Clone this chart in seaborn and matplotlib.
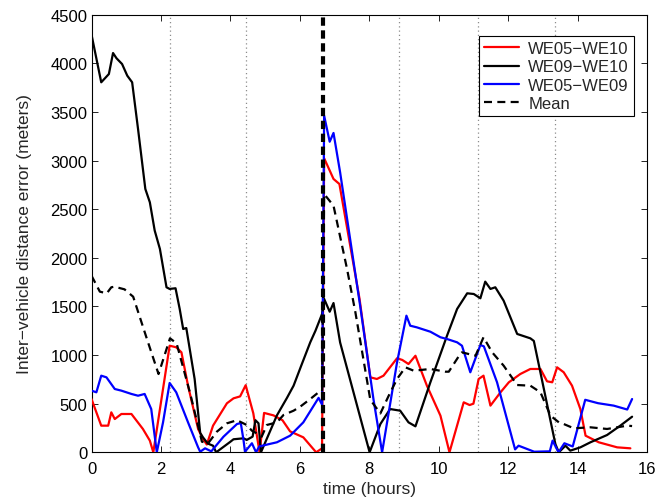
import matplotlib
matplotlib.use("Agg")
import matplotlib.pyplot as plt
import seaborn as sns
import pandas as pd

# WE05-WE10 pair
t_red = [0.0, 0.28, 0.48, 0.57, 0.67, 0.86, 1.15, 1.48, 1.68, 1.78, 2.25, 2.44, 2.59, 2.78,
         3.07, 3.21, 3.32, 3.5, 3.9, 4.09, 4.28, 4.44, 4.66, 4.84, 4.97, 5.24, 5.5, 5.72,
         6.1, 6.47, 6.64, 6.7, 6.97, 7.14, 7.72, 8.03, 8.22, 8.41, 8.8, 8.95, 9.13, 9.33,
         9.66, 10.05, 10.31, 10.72, 10.89, 11.0, 11.15, 11.29, 11.49, 11.78, 12.02, 12.35,
         12.64, 12.93, 13.12, 13.27, 13.41, 13.6, 13.84, 14.08, 14.23, 14.61, 15.14, 15.52]
v_red = [548, 274, 274, 411, 342, 394, 394, 240, 120, 0, 1096, 1080, 1028, 685,
         240, 137, 80, 274, 504, 555, 575, 690, 401, 0, 405, 380, 330, 215,
         154, 0, 41, 3024, 2811, 2759, 1577, 771, 754, 788, 967, 950, 908, 993,
         685, 377, 0, 514, 486, 500, 754, 788, 480, 617, 720, 805,
         857, 857, 730, 720, 874, 823, 685, 445, 171, 103, 51, 41]

# WE09-WE10 pair
t_black = [0.0, 0.28, 0.5, 0.62, 0.72, 0.88, 1.03, 1.17, 1.34, 1.55, 1.68, 1.82, 1.97, 2.16,
           2.25, 2.42, 2.54, 2.64, 2.73, 2.97, 3.13, 3.21, 3.35, 3.5, 3.59, 3.99, 4.09, 4.38,
           4.47, 4.64, 4.72, 4.81, 4.88, 5.34, 5.63, 5.82, 6.05, 6.3, 6.45, 6.64, 6.68, 6.86,
           6.97, 7.16, 8.01, 8.32, 8.6, 8.89, 9.13, 9.33, 9.76, 10.24, 10.53, 10.82, 11.01,
           11.2, 11.34, 11.49, 11.63, 11.87, 12.26, 12.64, 12.74, 13.36, 13.46, 13.65, 13.79,
           14.08, 14.37, 14.85, 15.23, 15.57]
v_black = [4295, 3805, 3890, 4106, 4052, 3993, 3873, 3805, 3325, 2708, 2571, 2280, 2091, 1697,
           1680, 1687, 1474, 1268, 1278, 754, 200, 154, 90, 68, 0, 106, 134, 144,
           127, 161, 330, 298, 0, 380, 560, 685, 900, 1131, 1250, 1422, 1594, 1446,
           1535, 1130, 0, 291, 445, 428, 308, 267, 720, 1200, 1474, 1635, 1628,
           1584, 1755, 1680, 1697, 1559, 1217, 1172, 1145, 85, 0, 68, 17,
           51, 103, 178, 274, 366]

# WE05-WE09 pair
t_blue = [0.0, 0.14, 0.28, 0.43, 0.67, 0.86, 1.15, 1.34, 1.53, 1.72, 1.88, 2.06, 2.25, 2.44,
          2.78, 3.07, 3.13, 3.27, 3.45, 3.8, 4.19, 4.3, 4.38, 4.42, 4.62, 4.74, 4.83, 5.0,
          5.34, 5.72, 6.1, 6.54, 6.64, 6.7, 6.86, 6.97, 7.16, 7.74, 8.12, 8.37, 8.8, 9.07,
          9.18, 9.37, 9.76, 10.05, 10.24, 10.53, 10.67, 10.91, 11.2, 11.3, 11.68, 12.2, 12.3,
          12.75, 13.2, 13.28, 13.45, 13.62, 13.86, 14.22, 14.59, 15.04, 15.43, 15.57]
v_blue = [634, 617, 788, 771, 651, 634, 600, 582, 600, 445, 0, 308, 713, 617,
          308, 51, 6, 41, 10, 160, 291, 300, 120, 6, 93, 0, 60, 75,
          103, 171, 308, 560, 490, 3462, 3194, 3284, 2880, 1500, 548, 0, 925, 1405,
          1302, 1285, 1240, 1183, 1165, 1131, 1096, 823, 1103, 1090, 720, 30, 68,
          6, 10, 120, 0, 93, 60, 540, 505, 480, 440, 548]

# Mean over the three pairs
t_mean = [0.0, 0.24, 0.44, 0.57, 0.66, 0.95, 1.2, 1.59, 1.93, 2.26, 2.45, 2.84, 3.18, 3.36,
          3.61, 3.9, 4.19, 4.47, 4.62, 4.76, 4.9, 5.05, 5.34, 5.53, 5.82, 6.01, 6.3, 6.54,
          6.64, 6.7, 6.97, 7.36, 7.6, 8.03, 8.32, 8.56, 8.8, 9.04, 9.28, 9.76, 10.19, 10.29,
          10.62, 10.67, 11.06, 11.29, 11.54, 11.87, 12.26, 12.64, 12.93, 13.22, 13.46, 13.6,
          13.89, 14.37, 14.85, 15.43, 15.57]
v_mean = [1816, 1652, 1635, 1697, 1703, 1676, 1600, 1172, 805, 1172, 1121, 607, 109, 93,
          212, 298, 330, 281, 222, 195, 160, 281, 308, 384, 428, 469, 548, 617,
          623, 2656, 2536, 1885, 1440, 540, 400, 582, 754, 874, 839, 857, 829, 829,
          1011, 1028, 993, 1183, 1028, 891, 692, 685, 617, 377, 308, 291,
          247, 257, 240, 274, 270]

series_names = ["WE05\u2212WE10", "WE09\u2212WE10", "WE05\u2212WE09", "Mean"]
series_colors = ["#ff0000", "#000000", "#0000ff", "#000000"]

event_hours = [2.25, 4.44, 8.87, 11.12, 13.34]
switch_hour = 6.66

x_ticks = list(range(0, 17, 2))
y_ticks = list(range(0, 4501, 500))

sns.set_style("ticks")
plt.rcParams["font.family"] = ["Liberation Sans", "DejaVu Sans"]
plt.rcParams["font.size"] = 12
plt.rcParams["axes.linewidth"] = 0.8
plt.rcParams["xtick.direction"] = "in"
plt.rcParams["ytick.direction"] = "in"

frames = []
for name, t, v in zip(series_names,
                      [t_red, t_black, t_blue, t_mean],
                      [v_red, v_black, v_blue, v_mean]):
    frames.append(pd.DataFrame({"hours": t, "error": v, "pair": name}))
data = pd.concat(frames, ignore_index=True)

fig = plt.figure(figsize=(6.68, 5.02), dpi=100)
ax = fig.add_axes([0.137, 0.097, 0.8316, 0.8717])

for h in event_hours:
    ax.axvline(h, color="#8c8c8c", lw=0.9, dashes=(1.0, 2.4), zorder=1)

for name, color in zip(series_names, series_colors):
    sub = data[data["pair"] == name]
    line_kw = dict(dashes=(3.6, 2.4)) if name == "Mean" else {}
    sns.lineplot(data=sub, x="hours", y="error", color=color, lw=1.6,
                 estimator=None, sort=False, ax=ax, label=name, zorder=3, **line_kw)

ax.axvline(switch_hour, color="black", lw=3.0, dashes=(2.0, 1.1), zorder=4)

ax.set_xlim(0, 16)
ax.set_ylim(0, 4500)
ax.set_xticks(x_ticks)
ax.set_yticks(y_ticks)
ax.tick_params(axis="both", which="both", top=True, right=True, length=4,
               width=0.6, labelsize=12, colors="black")
ax.tick_params(axis="x", pad=6)
ax.tick_params(axis="y", pad=3)
for s in ax.spines.values():
    s.set_visible(True)
    s.set_color("black")

ax.set_xlabel("time (hours)", fontsize=12.5, labelpad=4)
ax.set_ylabel("Inter\u2212vehicle distance error (meters)", fontsize=12.5, labelpad=13)

leg = ax.legend(loc="upper right", bbox_to_anchor=(0.9766, 0.9513), borderaxespad=0,
                frameon=True, fancybox=False, edgecolor="black", framealpha=1,
                handlelength=2.1, handletextpad=0.55, labelspacing=0.2,
                borderpad=0.3, fontsize=12)
leg.get_frame().set_linewidth(0.8)

fig.savefig("out.png", dpi=100, facecolor="white")
